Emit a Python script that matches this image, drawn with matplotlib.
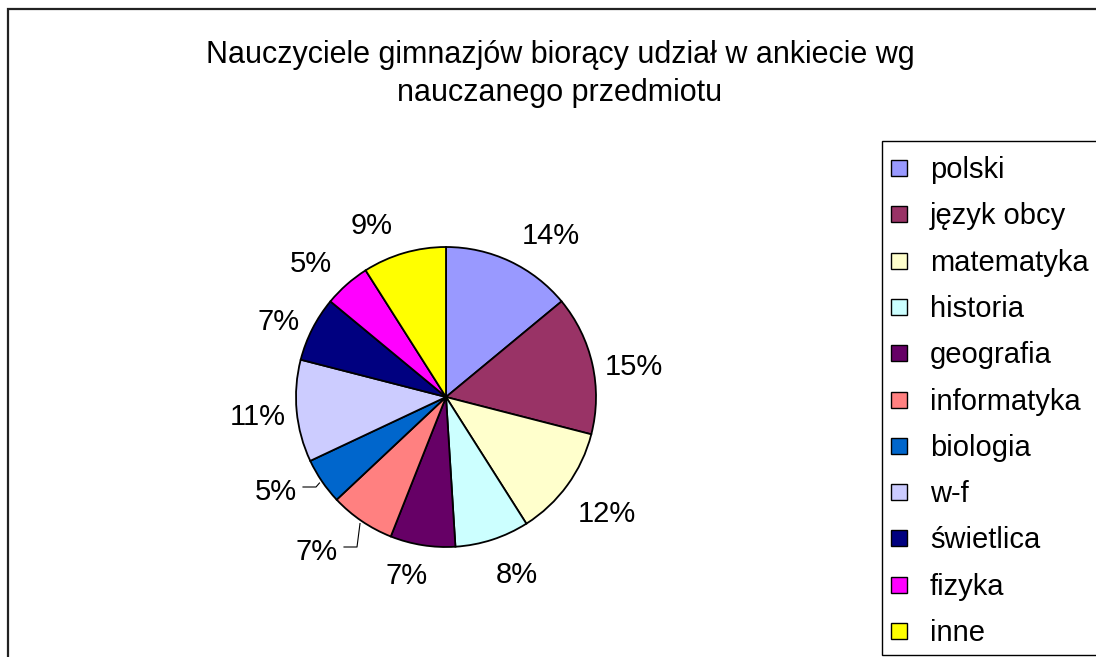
import numpy as np
import matplotlib
matplotlib.use("Agg")
import matplotlib.pyplot as plt
from matplotlib.patches import Rectangle

plt.rcParams['font.family'] = ['Liberation Sans', 'DejaVu Sans']

subjects = ["polski", "język obcy", "matematyka", "historia", "geografia",
            "informatyka", "biologia", "w-f", "świetlica", "fizyka", "inne"]
shares = [14, 15, 12, 8, 7, 7, 5, 11, 7, 5, 9]
colors = ["#9999FF", "#993366", "#FFFFCC", "#CCFFFF", "#660066", "#FF8080",
          "#0066CC", "#CCCCFF", "#000080", "#FF00FF", "#FFFF00"]
title = "Nauczyciele gimnazjów biorący udział w ankiecie wg\nnauczanego przedmiotu"

W, H = 1096, 657
fig = plt.figure(figsize=(W / 100, H / 100), dpi=100)


def px(x, y):
    # pixel position (from top-left) -> figure fraction
    return x / W, 1 - y / H


# outer chart frame (cut off on the right and bottom)
fig.patches.append(Rectangle((8 / W, -0.05), 1.1, 1 - 9 / H + 0.05,
                             transform=fig.transFigure, fill=False,
                             edgecolor="#222222", lw=1.6))

fig.text(*px(560, 74), title, ha="center", va="center",
         fontsize=22, linespacing=1.35)

# pie axes: centre at (446, 397) px, radius 150 px
cx, cy, r = 446, 397, 150
half = 200
ax = fig.add_axes([(cx - half) / W, (H - cy - half) / H, 2 * half / W, 2 * half / H])
wedges, texts, autotexts = ax.pie(
    shares, colors=colors, startangle=90, counterclock=False,
    autopct=lambda p: f"{p:.0f}%", pctdistance=1.27,
    wedgeprops=dict(edgecolor="black", linewidth=1.3),
    textprops=dict(fontsize=21))
ax.set_xlim(-half / r, half / r)
ax.set_ylim(-half / r, half / r)
ax.set_aspect("auto")
ax.axis("off")


def d(x, y):
    # pixel position -> pie data coords
    return (x - cx) / r, (cy - y) / r


# Excel-style label placement (visual centres in px)
label_pos = [(551, 233), (634, 364), (607, 511), (517, 572), (407, 573),
             (317, 549), (276, 489), (258, 414), (279, 319), (311, 261),
             (372, 223)]
for t, (x, y) in zip(autotexts, label_pos):
    t.set_position(d(x, y + 3))
    t.set_ha("center")
    t.set_va("center")

# leader lines for the two labels pushed away from their slices
for idx, half_w in [(5, 21), (6, 21)]:
    w = wedges[idx]
    ang = np.deg2rad((w.theta1 + w.theta2) / 2)
    lx, ly = label_pos[idx]
    p0 = (1.02 * np.cos(ang), 1.02 * np.sin(ang))
    p2 = d(lx + half_w + 6, ly - 2)
    p1 = (p2[0] + 13 / r, p2[1])
    ax.plot([p0[0], p1[0], p2[0]], [p0[1], p1[1], p2[1]], color="black", lw=0.8)

# legend drawn by hand: box from (882,141) running off the right edge
lx0, ly0 = px(882, 141)
ly1 = 1 - 655 / H
fig.patches.append(Rectangle((lx0, ly1), 1.1 - lx0, ly0 - ly1,
                             transform=fig.transFigure, facecolor="white",
                             edgecolor="black", lw=1.0))
row0, step, sq = 168, 46.3, 16
for i, (name, c) in enumerate(zip(subjects, colors)):
    yc = row0 + i * step
    sx, sy = px(891, yc + sq / 2)
    fig.patches.append(Rectangle((sx, sy), sq / W, sq / H,
                                 transform=fig.transFigure, facecolor=c,
                                 edgecolor="black", lw=1.0))
    fig.text(*px(930, yc + 2), name, ha="left", va="center", fontsize=21)

fig.savefig("out.png", dpi=100)
